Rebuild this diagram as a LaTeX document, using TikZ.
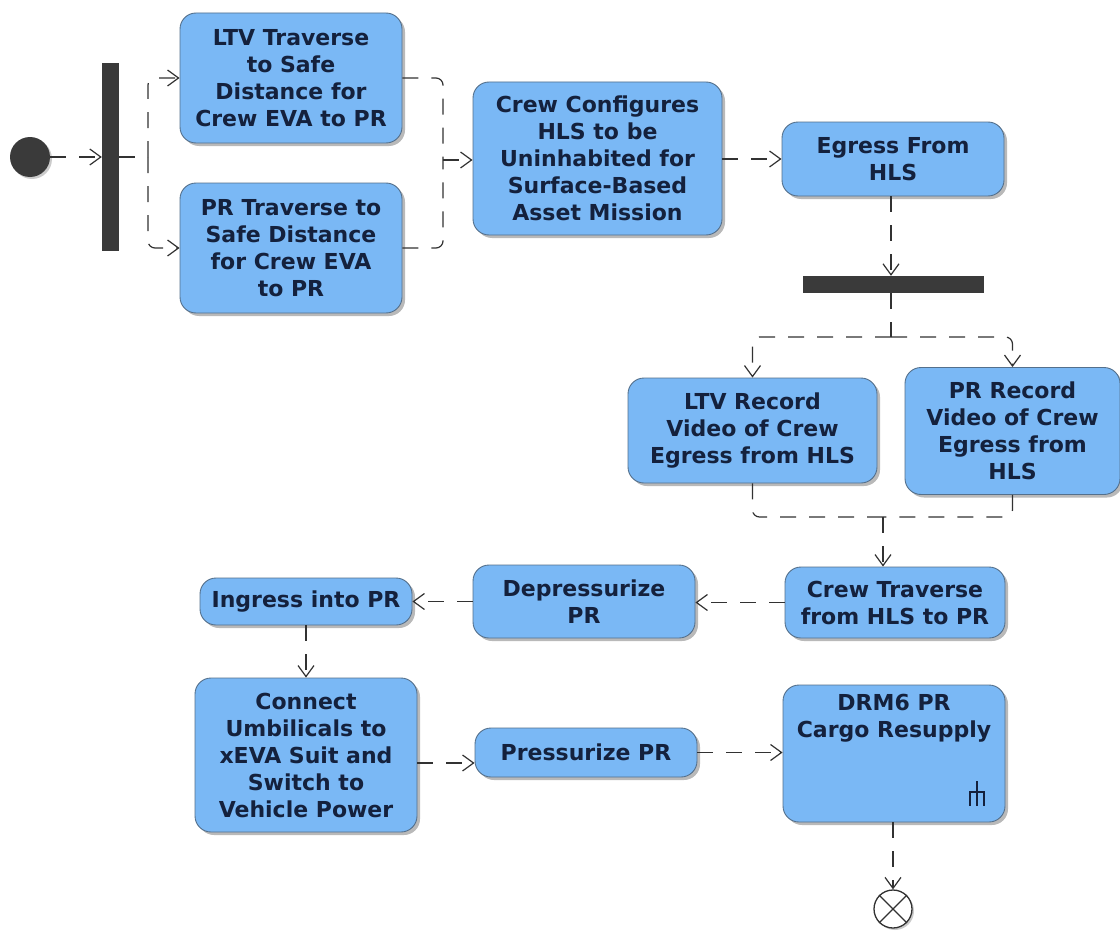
\documentclass[tikz,border=0pt]{standalone}
\usepackage{fontspec}
\setmainfont{DejaVu Sans}
\usetikzlibrary{arrows.meta,shadows,calc}
\definecolor{actfill}{RGB}{122,184,245}
\definecolor{actline}{RGB}{84,112,140}
\definecolor{acttext}{RGB}{20,33,61}
\definecolor{flowc}{RGB}{50,50,50}
\definecolor{barc}{RGB}{58,58,58}
\begin{document}
\begin{tikzpicture}[x=1pt,y=-1pt,
  act/.style={draw=actline, line width=0.9pt, fill=actfill, rounded corners=16pt,
    drop shadow={shadow xshift=3pt,shadow yshift=-3pt,fill=black!50,opacity=0.55},
    font=\bfseries\fontsize{22}{27}\selectfont, text=acttext, align=center, inner sep=0pt},
  flowline/.style={draw=flowc, line width=1.2pt, dash pattern=on 16pt off 13pt, rounded corners=7pt},
  flow/.style={flowline, -{Straight Barb[length=11pt,width=16pt,line width=1.2pt]}},
  syncbar/.style={fill=barc, draw=none, inner sep=0pt},
]
\useasboundingbox[fill=white] (0,0) rectangle (1120,934);

% initial node and first fork
\node[circle, fill=barc, minimum size=40, inner sep=0pt,
  drop shadow={shadow xshift=2pt,shadow yshift=-2pt,fill=black!40,opacity=0.5}] (start) at (30,157) {};
\node[syncbar, minimum width=17, minimum height=188] (fork) at (110.5,157) {};

% actions
\node[act, minimum width=222, minimum height=130] (ltv) at (291,78)
  {LTV Traverse\\to Safe\\Distance for\\Crew EVA to PR};
\node[act, minimum width=222, minimum height=130] (prt) at (291,248)
  {PR Traverse to\\Safe Distance\\for Crew EVA\\to PR};
\node[act, minimum width=249, minimum height=153] (cc) at (597.5,158.5)
  {Crew Configures\\HLS to be\\Uninhabited for\\Surface-Based\\Asset Mission};
\node[act, minimum width=222, minimum height=74] (eg) at (893,159)
  {Egress From\\HLS};
\node[syncbar, minimum width=181, minimum height=17] (bar) at (893.5,284.5) {};
\node[act, minimum width=249, minimum height=105] (lr) at (752.5,430.5)
  {LTV Record\\Video of Crew\\Egress from HLS};
\node[act, minimum width=215, minimum height=127] (prr) at (1012.5,431)
  {PR Record\\Video of Crew\\Egress from\\HLS};
\node[act, minimum width=220, minimum height=71] (ct) at (895,602.5)
  {Crew Traverse\\from HLS to PR};
\node[act, minimum width=222, minimum height=73] (dp) at (584,601.5)
  {Depressurize\\PR};
\node[act, minimum width=212, minimum height=47] (ig) at (306,601.5)
  {Ingress into PR};
\node[act, minimum width=222, minimum height=154] (cn) at (306,755)
  {Connect\\Umbilicals to\\xEVA Suit and\\Switch to\\Vehicle Power};
\node[act, minimum width=222, minimum height=49] (pz) at (586,752.5)
  {Pressurize PR};
\node[act, minimum width=222, minimum height=137] (drm) at (894,753.5) {};
\node[font=\bfseries\fontsize{22}{27}\selectfont, text=acttext, align=center,
  anchor=north, inner sep=0pt] (drmtext) at (894,694) {DRM6 PR\\Cargo Resupply};

% call-behaviour rake
\draw[acttext, line width=2.6pt] (977,781) -- (977,792)
  (969,792) -- (985,792)
  (970,792) -- (970,806) (977,792) -- (977,806) (984,792) -- (984,806);

% final node
\node[circle, draw=flowc, line width=1.3pt, fill=white, minimum size=38, inner sep=0pt,
  drop shadow={shadow xshift=2pt,shadow yshift=-2pt,fill=black!40,opacity=0.5}] (end) at (893,909) {};
\draw[flowc, line width=1.3pt] (end.45) -- (end.225) (end.135) -- (end.315);

% flows
\coordinate (fs) at (148,157);
\coordinate (j1) at (443,160);
\coordinate (sp) at (891,337);
\coordinate (mp) at (883,517);

\draw[flow] (start) -- (fork);
\draw[flowline] (fork.east) -- (fs);
\draw[flow] (fs) |- (ltv.west);
\draw[flow] (fs) |- (prt.west);
\draw[flowline] (ltv.east) -| (j1);
\draw[flowline] (prt.east) -| (j1);
\draw[flow] (j1) -- (j1 -| cc.west);
\draw[flow] (cc.east |- eg.west) -- (eg.west);
\draw[flow] (eg.south -| sp) -- (sp |- bar.north);
\draw[flowline] (sp |- bar.south) -- (sp);
\draw[flow] (sp) -| (lr.north);
\draw[flow] (sp) -| (prr.north);
\draw[flowline] (lr.south) |- (mp);
\draw[flowline] (prr.south) |- (mp);
\draw[flow] (mp) -- (mp |- ct.north);
\draw[flow] (ct.west) -- (ct.west -| dp.east);
\draw[flow] (dp.west) -- (dp.west -| ig.east);
\draw[flow] (ig.south) -- (ig.south |- cn.north);
\draw[flow] ($(cn.east)+(0,8)$) -- ($(cn.east -| pz.west)+(0,8)$);
\draw[flow] (pz.east) -- (pz.east -| drm.west);
\draw[flow] (end.north |- drm.south) -- (end.north);
\end{tikzpicture}
\end{document}
